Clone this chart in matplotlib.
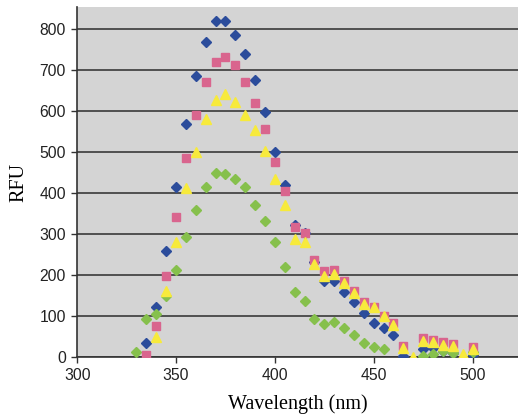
import matplotlib
matplotlib.use("Agg")
import matplotlib.pyplot as plt
import numpy as np

nan = np.nan

# wavelength (nm) and RFU readings for the four samples
wavelength = [330, 335, 340, 345, 350, 355, 360, 365, 370, 375, 380, 385,
              390, 395, 400, 405, 410, 415, 420, 425, 430, 435, 440, 445,
              450, 455, 460, 465, 470, 475, 480, 485, 490, 495, 500]

blue = [nan, 33, 121, 259, 415, 568, 684, 769, 819, 818, 786, 738,
        676, 598, 499, 419, 322, 303, 232, 186, 186, 158, 134, 106,
        83, 70, 53, 2, nan, 19, 21, 15, 10, nan, 5]

green = [12, 93, 105, 148, 211, 292, 358, 414, 448, 446, 433, 415,
         370, 332, 279, 219, 158, 137, 92, 80, 86, 70, 54, 35,
         23, 20, nan, nan, nan, 3, 7, 15, 10, nan, 13]

pink = [nan, 5, 76, 197, 342, 485, 591, 670, 720, 731, 711, 671,
        620, 555, 476, 405, 318, 302, 236, 210, 212, 184, 160, 134,
        122, 101, 82, 27, nan, 45, 42, 36, 31, nan, 25]

yellow = [nan, nan, 48, 160, 280, 411, 499, 580, 627, 641, 621, 590,
          554, 503, 435, 370, 288, 280, 226, 197, 202, 180, 156, 130,
          121, 100, 78, 22, 0, 40, 37, 30, 26, 7, 20]

x_ticks = [300, 350, 400, 450, 500]
y_ticks = [0, 100, 200, 300, 400, 500, 600, 700, 800]

fig = plt.figure(figsize=(5.18, 4.16), dpi=100)
ax = fig.add_axes([0.149, 0.142, 0.851, 0.841])
ax.set_facecolor("#d4d4d4")

ax.plot(wavelength, blue, "D", color="#2b4c9b", markersize=4.8, zorder=3)
ax.plot(wavelength, green, "D", color="#86c04c", markersize=4.8, zorder=3)
ax.plot(wavelength, pink, "s", color="#d9658e", markersize=5.3, zorder=3)
ax.plot(wavelength, yellow, "^", color="#f7ea3c", markersize=6.8, zorder=3)

ax.set_xlim(300, 523)
ax.set_ylim(0, 853)
ax.set_xticks(x_ticks)
ax.set_yticks(y_ticks)
ax.tick_params(labelsize=11.3, length=4, width=1, color="#333333",
               labelcolor="#222222", pad=4)
for lab in ax.get_xticklabels() + ax.get_yticklabels():
    lab.set_family("Liberation Sans")

ax.grid(axis="y", color="#3a3a3a", linewidth=1.2, zorder=1)
ax.set_axisbelow(True)
for side in ["top", "right"]:
    ax.spines[side].set_visible(False)
for side in ["left", "bottom"]:
    ax.spines[side].set_color("#333333")
    ax.spines[side].set_linewidth(1.2)

ax.set_xlabel("Wavelength (nm)", family="Liberation Serif", fontsize=14.5, labelpad=8)
ax.set_ylabel("RFU", family="Liberation Serif", fontsize=14.5, labelpad=8)

fig.savefig("out.png", dpi=100)
